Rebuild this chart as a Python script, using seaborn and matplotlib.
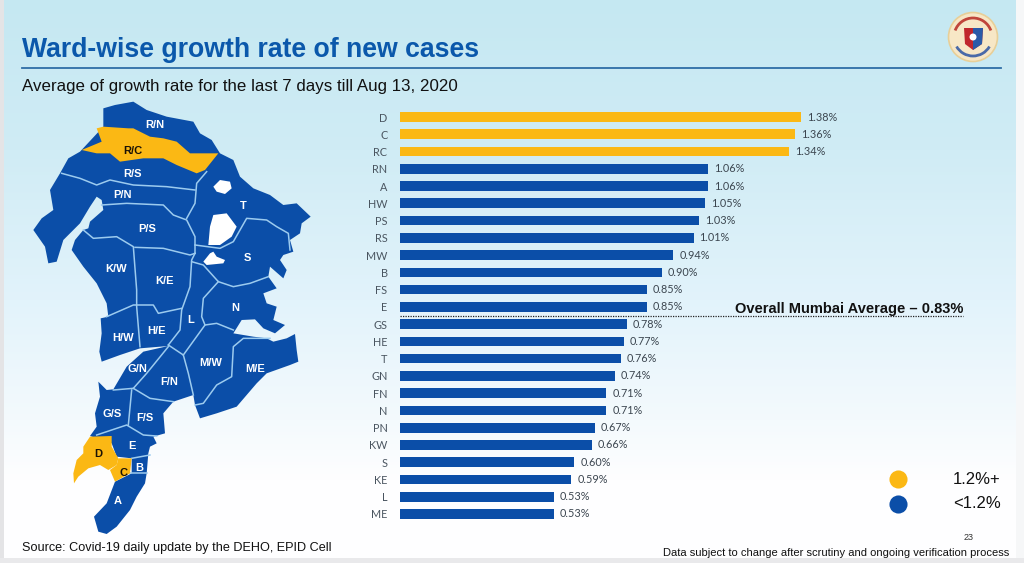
import numpy as np
import pandas as pd
import matplotlib
matplotlib.use("Agg")
import matplotlib.pyplot as plt
from matplotlib.patches import Polygon, Circle, Arc
import seaborn as sns

wards = ["D", "C", "RC", "RN", "A", "HW", "PS", "RS", "MW", "B", "FS", "E",
         "GS", "HE", "T", "GN", "FN", "N", "PN", "KW", "S", "KE", "L", "ME"]
growth = [1.38, 1.36, 1.34, 1.06, 1.06, 1.05, 1.03, 1.01, 0.94, 0.90, 0.85, 0.85,
          0.78, 0.77, 0.76, 0.74, 0.71, 0.71, 0.67, 0.66, 0.60, 0.59, 0.53, 0.53]
group_labels = ["1.2%+", "<1.2%"]
overall_avg_label = "Overall Mumbai Average – 0.83%"

BLUE = "#0b4ea8"
YELLOW = "#fbb814"
LINE = "#9ccbef"

# map outlines, y below 660 is the upper half of the map
land = [(310,55),(345,45),(400,35),(440,60),(500,80),(580,95),(600,130),(635,150),(660,190),(700,210),
        (720,260),(760,295),(810,315),(850,345),(890,340),(932,380),(905,400),(900,430),(870,450),(880,485),
        (850,495),(840,510),(860,540),(850,565),(810,530),(805,560),(830,595),(790,610),(800,640),(830,650),
        (820,690),(855,705),(825,730),(790,715),(765,688),(725,690),(700,730),(760,740),(800,745),(820,755),
        (860,745),(885,732),(890,780),(895,815),(870,825),(800,850),(770,880),(710,950),(650,970),(600,985),
        (585,945),(580,915),(520,935),(490,970),(495,1030),(460,1040),(470,1060),(450,1070),(445,1090),(440,1150),
        (435,1180),(410,1220),(390,1260),(350,1310),(320,1332),(295,1325),(282,1280),(320,1240),(345,1175),(395,1150),
        (395,1105),(350,1100),(335,1060),(270,1038),(290,1010),(285,970),(300,920),(295,875),(320,900),(340,898),
        (380,830),(430,785),(505,768),(420,775),(360,795),(305,815),(298,785),(305,730),(302,685),(325,680),
        (320,640),(290,580),(250,530),(215,480),(225,450),(250,420),(265,415),(270,395),(310,360),(305,330),
        (290,320),(270,350),(240,400),(190,450),(170,515),(145,520),(135,470),(100,420),(125,385),(160,360),
        (150,300),(180,250),(205,205),(240,185),(310,110)]
rc_ward = [(245,180),(305,155),(290,115),(310,110),(385,115),(400,115),(450,140),(490,145),(530,155),(570,190),
           (655,190),(615,240),(590,250),(530,225),(490,205),(430,205),(360,215),(330,190),(290,190)]
d_ward = [(270,1040),(335,1038),(335,1070),(355,1105),(350,1125),(325,1140),(300,1125),(265,1135),(235,1160),
          (222,1180),(220,1150),(230,1110),(250,1090),(250,1070)]
c_ward = [(355,1105),(395,1105),(390,1150),(345,1175),(330,1140),(350,1125)]
holes = [[(640,290),(660,270),(690,275),(695,295),(675,312),(650,305)],
         [(640,375),(680,370),(710,410),(695,440),(660,465),(625,465),(630,410)],
         [(610,515),(630,490),(640,485),(650,500),(675,510),(670,520),(620,525)]]
borders = [[(185,250),(240,265),(290,285),(330,270),(400,285),(500,290),(585,300)],
           [(305,345),(380,340),(490,345),(520,375),(560,390),(585,440),(585,490)],
           [(620,245),(590,280),(585,340),(560,385)],
           [(250,420),(280,445),(350,440),(400,470),(410,600),(410,650),(420,770)],
           [(405,472),(490,475),(570,495),(585,490)],
           [(585,490),(575,510),(570,590),(545,660),(540,720),(505,765)],
           [(320,680),(400,645),(460,645),(475,670),(545,655)],
           [(585,465),(660,475),(700,455),(740,385),(800,390),(830,410),(865,430),(870,480)],
           [(575,515),(610,525),(655,575),(700,590),(750,580),(805,560)],
           [(655,575),(610,625),(605,680),(615,705),(550,795)],
           [(615,705),(650,700),(700,720)],
           [(505,765),(550,795),(565,850),(580,915)],
           [(810,745),(730,745),(700,770),(695,860),(650,885),(610,940),(585,945)],
           [(505,770),(440,850),(400,895)],
           [(340,900),(400,895),(450,925),(520,935)],
           [(395,900),(385,1005)],
           [(290,1035),(380,1005),(430,1035),(470,1038)],
           [(395,1105),(450,1095)],
           [(390,1150),(440,1150)]]
ward_names = [("R/N",155,125,"w"),("R/C",133,151,"k"),("R/S",133,174,"w"),("P/N",122,195,"w"),("P/S",147,229,"w"),
              ("T",243,206,"w"),("S",247,258,"w"),("K/W",116,269,"w"),("K/E",164,281,"w"),("N",235,308,"w"),
              ("L",191,320,"w"),("H/E",157,331,"w"),("H/W",123,338,"w"),("M/W",211,363,"w"),("M/E",255,369,"w"),
              ("G/N",137,369,"w"),("F/N",169,382,"w"),("G/S",112,414,"w"),("F/S",145,418,"w"),("E",132,446,"w"),
              ("D",98,454,"k"),("C",123,473,"k"),("B",139,468,"w"),("A",118,501,"w")]


def to_px(pts):
    return [(x / 3, 90 + y / 3) for x, y in pts]


plt.rcParams["font.family"] = ["Liberation Sans", "DejaVu Sans"]
fig = plt.figure(figsize=(10.24, 5.63), dpi=100)

# full slide layer in pixel coordinates
bg = fig.add_axes([0, 0, 1, 1], zorder=0)
stops_y = [0, 150, 300, 420, 480, 563]
stops_r = [197, 208, 226, 244, 254, 255]
stops_g = [232, 236, 243, 250, 254, 255]
stops_b = [242, 245, 251, 253, 255, 255]
rows = np.arange(563)
grad = np.stack([np.interp(rows, stops_y, stops_r), np.interp(rows, stops_y, stops_g),
                 np.interp(rows, stops_y, stops_b)], axis=1)[:, None, :] / 255
bg.imshow(grad, extent=(0, 1024, 563, 0), aspect="auto", zorder=0)
bg.set_xlim(0, 1024)
bg.set_ylim(563, 0)
bg.axis("off")
bg.fill_between([0, 4], 0, 563, color="#e4e4e6", lw=0, zorder=1)
bg.fill_between([1016, 1024], 0, 563, color="#f6f7f8", lw=0, zorder=1)
bg.fill_between([0, 1024], 558, 563, color="#e9e9eb", lw=0, zorder=1)

bg.text(22, 50, "Ward-wise growth rate of new cases", color="#0b58ab", fontsize=19.2,
        fontweight="bold", va="center")
bg.plot([22, 1001], [68, 68], color="#2f6ea6", lw=1.3, zorder=2)
bg.text(22, 86, "Average of growth rate for the last 7 days till Aug 13, 2020", color="#111111",
        fontsize=12.2, va="center")
bg.text(22, 548, "Source: Covid-19 daily update by the DEHO, EPID Cell", color="#111111", fontsize=9.1, va="center")
bg.text(1009, 553.5, "Data subject to change after scrutiny and ongoing verification process", color="#111111",
        fontsize=8.0, va="center", ha="right")
bg.text(974, 537, "23", color="#333333", fontsize=6.5, ha="right", va="center")

# map
bg.add_patch(Polygon(to_px(land), closed=True, fc=BLUE, ec="none", zorder=3))
for pts in borders:
    xy = np.array(to_px(pts))
    bg.plot(xy[:, 0], xy[:, 1], color=LINE, lw=1.1, zorder=4)
for pts in (rc_ward, d_ward, c_ward):
    bg.add_patch(Polygon(to_px(pts), closed=True, fc=YELLOW, ec="none", zorder=5))
for pts in holes:
    bg.add_patch(Polygon(to_px(pts), closed=True, fc="white", ec="none", zorder=5))
for name, x, y, col in ward_names:
    bg.text(x, y, name, color="white" if col == "w" else "#1a1205", fontsize=8, fontweight="bold",
            ha="center", va="center", zorder=6)

# logo
bg.add_patch(Circle((973, 37), 24.5, fc="#f7e7c6", ec="#e8cf98", lw=1.2, zorder=3))
bg.add_patch(Arc((973, 37), 38, 38, theta1=200, theta2=340, color="#c0453a", lw=2, zorder=4))
bg.add_patch(Arc((973, 37), 38, 38, theta1=30, theta2=150, color="#4a6aa8", lw=2, zorder=4))
bg.add_patch(Polygon([(964, 28), (983, 28), (982, 44), (973, 50), (965, 44)], closed=True, fc="#c0272d", ec="none", zorder=5))
bg.add_patch(Polygon([(973, 28), (983, 28), (982, 44), (973, 50)], closed=True, fc="#2a5aa8", ec="none", zorder=6))
bg.add_patch(Circle((973, 37), 3.5, fc="white", ec="none", zorder=7))

# legend dots
for label, col, y in zip(group_labels, [YELLOW, BLUE], [479, 504]):
    bg.scatter([898], [y], s=170, color=col, linewidths=0, zorder=3)
    bg.text(953, y, label, color="#111111", fontsize=12, va="center", zorder=3)

# bar chart
ax = fig.add_axes([400 / 1024, 1 - 522.6 / 563, 600 / 1024, (522.6 - 108.4) / 563], zorder=1)
ax.patch.set_alpha(0)
df = pd.DataFrame({"ward": wards, "growth": growth})
df["group"] = np.where(df["growth"] >= 1.2, group_labels[0], group_labels[1])
sns.barplot(data=df, x="growth", y="ward", hue="group", palette={group_labels[0]: YELLOW, group_labels[1]: BLUE},
            dodge=False, width=0.56, legend=False, ax=ax, saturation=1)
for cont in ax.containers:
    ax.bar_label(cont, labels=[f"{v:.2f}%" if not np.isnan(v) else "" for v in cont.datavalues],
                 padding=4.3, fontsize=7.8, color="#3c4650", family="Lato")
ax.set_xlim(0, 600 / 290.6)
ax.set_ylim(23.5, -0.5)
ax.set_xlabel("")
ax.set_ylabel("")
ax.set_xticks([])
ax.tick_params(axis="y", length=0, pad=9, labelsize=7.8, labelcolor="#4a5560")
for lab in ax.get_yticklabels():
    lab.set_family("Lato")
sns.despine(ax=ax, left=True, bottom=True)
ax.plot([0, 563 / 290.6], [11.5, 11.5], color="#222222", lw=0.9, ls=(0, (1, 1)))
ax.text(563 / 290.6, 11.12, overall_avg_label, color="#111111", fontsize=10.5, fontweight="bold", ha="right", va="center")

fig.savefig("out.png", dpi=100)
